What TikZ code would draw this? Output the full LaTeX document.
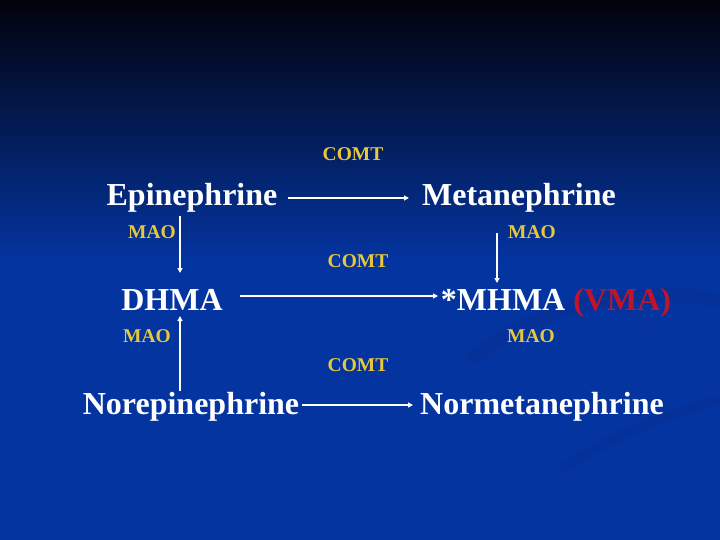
\documentclass[tikz,border=0pt]{standalone}
\usepackage{fontspec}
\setmainfont{Liberation Serif}
\usetikzlibrary{arrows.meta}
\definecolor{bgtop}{HTML}{02030C}
\definecolor{bgblue}{HTML}{0434A0}
\definecolor{bgdark}{HTML}{0A2C88}
\definecolor{enz}{HTML}{E6C83A}
\definecolor{vma}{HTML}{C0142A}
\tikzset{
  mol/.style={text=white, font=\bfseries\fontsize{32}{32}\selectfont, inner sep=0pt, anchor=base},
  enzyme/.style={text=enz, font=\bfseries\fontsize{19.5}{19.5}\selectfont, inner sep=0pt, anchor=base},
  conv/.style={draw=white, line width=1.2pt, -{Triangle[length=5pt,width=5pt]}},
}
\begin{document}
\begin{tikzpicture}[x=1pt,y=-1pt]
\useasboundingbox (0,0) rectangle (720,540);
% background
\shade[top color=bgtop, bottom color=bgblue] (0,0) rectangle (720,260);
\fill[bgblue] (0,259) rectangle (720,540);
\draw[bgdark, line width=14pt, opacity=0.25] (470,360) .. controls (560,290) and (660,290) .. (720,300);
\draw[bgdark, line width=10pt, opacity=0.22] (560,470) .. controls (620,430) and (680,410) .. (720,400);
\draw[bgdark, line width=6pt, opacity=0.2] (600,300) .. controls (680,330) and (700,380) .. (720,390);

% molecules
\node[mol] (epi) at (192,206) {Epinephrine};
\node[mol] (meta) at (519,206) {Metanephrine};
\node[mol] (dhma) at (172,310) {DHMA};
\node[mol] (mhma) at (556,310) {*MHMA \textcolor{vma}{(VMA)}};
\node[mol] (nor) at (191,414) {Norepinephrine};
\node[mol] (normeta) at (542,414) {Normetanephrine};

% enzymes
\node[enzyme] (c1) at (353,161) {COMT};
\node[enzyme] (c2) at (358,267) {COMT};
\node[enzyme] (c3) at (358,371) {COMT};
\node[enzyme] (m1) at (152,238) {MAO};
\node[enzyme] (m2) at (532,238) {MAO};
\node[enzyme] (m3) at (147,342) {MAO};
\node[enzyme] (m4) at (531,342) {MAO};

% connector end points
\coordinate (a1s) at (288,198);
\coordinate (a1e) at (409,198);
\coordinate (a2s) at (240,296);
\coordinate (a2e) at (438,296);
\coordinate (a3s) at (302,405);
\coordinate (a3e) at (413,405);
\coordinate (v1s) at (180,216);
\coordinate (v1e) at (180,273);
\coordinate (v2s) at (497,233);
\coordinate (v2e) at (497,283);
\coordinate (v3s) at (180,391);
\coordinate (v3e) at (180,316);

\draw[conv] (a1s) -- (a1e);
\draw[conv] (a2s) -- (a2e);
\draw[conv] (a3s) -- (a3e);
\draw[conv] (v1s) -- (v1e);
\draw[conv] (v2s) -- (v2e);
\draw[conv] (v3s) -- (v3e);
\end{tikzpicture}
\end{document}
